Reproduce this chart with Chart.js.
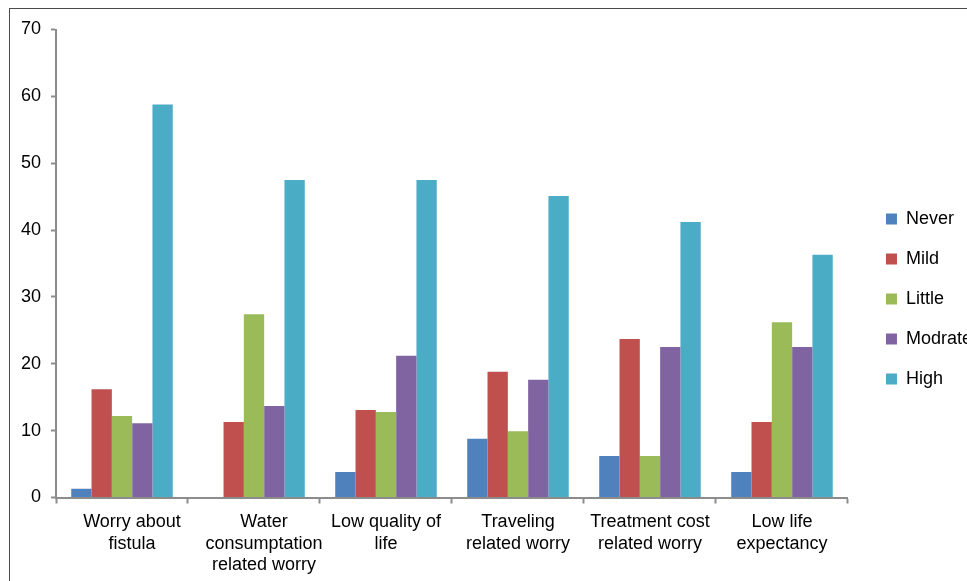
<!DOCTYPE html>
<html>
<head>
<meta charset="utf-8">
<title>Worry levels by concern</title>
<script src="https://cdn.jsdelivr.net/npm/chart.js@4/dist/chart.umd.min.js"></script>
<style>
  html, body { margin: 0; padding: 0; background: #fff; overflow: hidden; }
  #wrap { position: relative; width: 967px; height: 581px; overflow: hidden; }
  #frame {
    position: absolute; left: 9px; top: 8px; width: 1000px; height: 600px;
    border-left: 1px solid #4a4a4a; border-top: 1px solid #4a4a4a;
    pointer-events: none;
  }
  canvas { position: absolute; left: 0; top: 0; }
</style>
</head>
<body>
<div id="wrap">
  <canvas id="chart" width="982" height="581" style="width:982px;height:581px"></canvas>
  <div id="frame"></div>
</div>
<script>
// Concern categories (multi-line axis labels)
const categories = [
  ["Worry about", "fistula"],
  ["Water", "consumptation", "related worry"],
  ["Low quality of", "life"],
  ["Traveling", "related worry"],
  ["Treatment cost", "related worry"],
  ["Low life", "expectancy"]
];

// Percentage of respondents per level of worry
const never    = [1.3, 0, 3.8, 8.8, 6.2, 3.8];
const mild     = [16.2, 11.3, 13.1, 18.8, 23.7, 11.3];
const little   = [12.2, 27.4, 12.8, 9.9, 6.2, 26.2];
const moderate = [11.1, 13.7, 21.2, 17.6, 22.5, 22.5];
const high     = [58.8, 47.5, 47.5, 45.1, 41.2, 36.3];

const seriesNames = ["Never", "Mild", "Little", "Modrate", "High"];
const yTicks = [0, 10, 20, 30, 40, 50, 60, 70];

const colors = ["#4F81BD", "#C0504D", "#9BBB59", "#8064A2", "#4BACC6"];
const FONT = "'Liberation Sans', Arial, sans-serif";
const AXIS = "#8c8c8c";

const values = [never, mild, little, moderate, high];
const datasets = values.map((v, i) => ({
  label: seriesNames[i],
  data: v,
  backgroundColor: colors[i],
  borderWidth: 0,
  categoryPercentage: 5 / 6.5,
  barPercentage: 1.0
}));

// The first two labels sit a little right of their group centre
const labelIndent = ["    ", "    ", "", "", "", ""];

new Chart(document.getElementById("chart"), {
  type: "bar",
  data: { labels: categories, datasets },
  options: {
    responsive: false,
    devicePixelRatio: 1,
    animation: false,
    layout: { padding: { left: 0, right: 0, top: 29.5, bottom: 0 } },
    scales: {
      x: {
        grid: {
          display: true, offset: true, drawOnChartArea: false,
          tickLength: 6, tickColor: AXIS, tickWidth: 2
        },
        border: { display: true, color: AXIS, width: 2 },
        ticks: {
          color: "#000", font: { family: FONT, size: 18 },
          padding: 8, maxRotation: 0, autoSkip: false,
          callback: function (value, index) {
            const lines = this.getLabelForValue(value);
            return lines.map(t => labelIndent[index] + t);
          }
        },
        afterFit: s => { s.height = 83.5; }
      },
      y: {
        min: 0, max: 70,
        afterBuildTicks: s => { s.ticks = yTicks.map(v => ({ value: v })); },
        grid: {
          display: true, drawOnChartArea: false,
          tickLength: 5, tickColor: AXIS, tickWidth: 2
        },
        border: { display: true, color: AXIS, width: 2 },
        ticks: { color: "#000", font: { family: FONT, size: 18 }, padding: 10 },
        afterFit: s => { s.width = 56; }
      },
      gap: {
        position: "right", display: true,
        grid: { display: false }, border: { display: false },
        ticks: { display: false },
        afterFit: s => { s.width = 16; }
      }
    },
    plugins: {
      tooltip: { enabled: false },
      legend: {
        position: "right",
        align: "start",
        // blank title block pushes the key down to mid-height
        title: { display: true, text: " ", font: { family: FONT, size: 18 }, padding: { top: 0, bottom: 136.9 } },
        labels: {
          boxWidth: 11, boxHeight: 11, padding: 22,
          color: "#000", font: { family: FONT, size: 18 }
        }
      }
    }
  }
});
</script>
</body>
</html>
